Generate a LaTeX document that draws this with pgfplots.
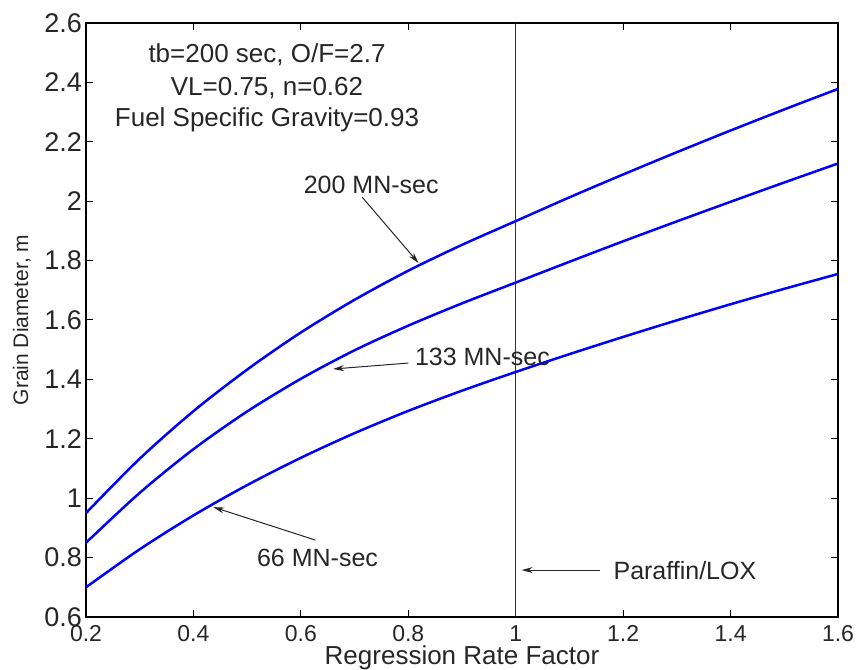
\documentclass[border=0pt]{standalone}
\usepackage{fontspec}
\setmainfont{Liberation Sans}
\usepackage{pgfplots}
\pgfplotsset{compat=1.18}
\usetikzlibrary{arrows.meta}
\newcommand\fs[1]{\fontsize{#1}{#1}\selectfont}
\begin{document}
\begin{tikzpicture}
\begin{axis}[
  scale only axis,
  width=752bp, height=594bp,
  xmin=0.2, xmax=1.6, ymin=0.6, ymax=2.6,
  xtick={0.2,0.4,...,1.6},
  ytick={0.6,0.8,...,2.6},
  xticklabels={0.2,0.4,0.6,0.8,1,1.2,1.4,1.6},
  yticklabels={0.6,0.8,1,1.2,1.4,1.6,1.8,2,2.2,2.4,2.6},
  tick pos=both, tick align=inside,
  major tick length=7bp,
  tick style={black, line width=1bp},
  axis line style={black, line width=1.3bp},
  xticklabel style={font=\fs{23bp}, inner sep=0pt, anchor=north, yshift=-8bp, text=black!85},
  yticklabel style={font=\fs{27bp}, inner sep=0pt, anchor=east, xshift=-4bp, text=black!85},
  clip=false,
]
\addplot[blue, line width=2.5bp, smooth] coordinates {
 (0.2,0.950) (0.3,1.133) (0.4,1.293) (0.5,1.433) (0.6,1.558) (0.7,1.668) (0.8,1.766) (0.9,1.853)
 (1.0,1.933) (1.1,2.013) (1.2,2.090) (1.3,2.165) (1.4,2.238) (1.5,2.309) (1.6,2.378)};
\addplot[blue, line width=2.5bp, smooth] coordinates {
 (0.2,0.850) (0.3,1.018) (0.4,1.165) (0.5,1.292) (0.6,1.402) (0.7,1.498) (0.8,1.581) (0.9,1.656)
 (1.0,1.726) (1.1,1.796) (1.2,1.865) (1.3,1.932) (1.4,1.998) (1.5,2.063) (1.6,2.127)};
\addplot[blue, line width=2.5bp, smooth] coordinates {
 (0.2,0.700) (0.3,0.828) (0.4,0.942) (0.5,1.044) (0.6,1.136) (0.7,1.219) (0.8,1.294) (0.9,1.362)
 (1.0,1.425) (1.1,1.485) (1.2,1.543) (1.3,1.599) (1.4,1.653) (1.5,1.705) (1.6,1.755)};
\addplot[black!80, line width=1.3bp] coordinates {(1,0.6) (1,2.6)};

\node[font=\fs{26bp}, text=black!85, inner sep=0pt] at (axis cs:0.537,2.492) {tb=200 sec, O/F=2.7};
\node[font=\fs{26bp}, text=black!85, inner sep=0pt] at (axis cs:0.537,2.381) {VL=0.75, n=0.62};
\node[font=\fs{26bp}, text=black!85, inner sep=0pt] at (axis cs:0.537,2.273) {Fuel Specific Gravity=0.93};

\node[font=\fs{25bp}, text=black!85, inner sep=0pt] at (axis cs:0.731,2.055) {200 MN-sec};
\node[font=\fs{25bp}, text=black!85, inner sep=0pt] at (axis cs:0.938,1.475) {133 MN-sec};
\node[font=\fs{25bp}, text=black!85, inner sep=0pt] at (axis cs:0.631,0.799) {66 MN-sec};
\node[font=\fs{25bp}, text=black!85, inner sep=0pt] at (axis cs:1.315,0.758) {Paraffin/LOX};

\draw[-{Stealth[length=11bp,width=6bp]}, line width=1bp, black!85] (axis cs:0.714,2.014) -- (axis cs:0.819,1.792);
\draw[-{Stealth[length=11bp,width=6bp]}, line width=1bp, black!85] (axis cs:0.800,1.455) -- (axis cs:0.660,1.435);
\draw[-{Stealth[length=11bp,width=6bp]}, line width=1bp, black!85] (axis cs:0.627,0.859) -- (axis cs:0.437,0.970);
\draw[-{Stealth[length=11bp,width=6bp]}, line width=1bp, black!85] (axis cs:1.156,0.758) -- (axis cs:1.011,0.758);
\end{axis}
\node[font=\fs{26bp}, text=black!85, inner sep=0pt, anchor=north] at ([yshift=-28bp]current axis.south) {Regression Rate Factor};
\node[font=\fs{21bp}, text=black!85, inner sep=0pt, rotate=90, anchor=south] at ([xshift=-55bp]current axis.west) {Grain Diameter, m};
\pgfresetboundingbox
\path[use as bounding box] ([xshift=-86bp,yshift=-53bp]current axis.south west) rectangle ([xshift=21bp,yshift=23bp]current axis.north east);
\end{tikzpicture}
\end{document}
